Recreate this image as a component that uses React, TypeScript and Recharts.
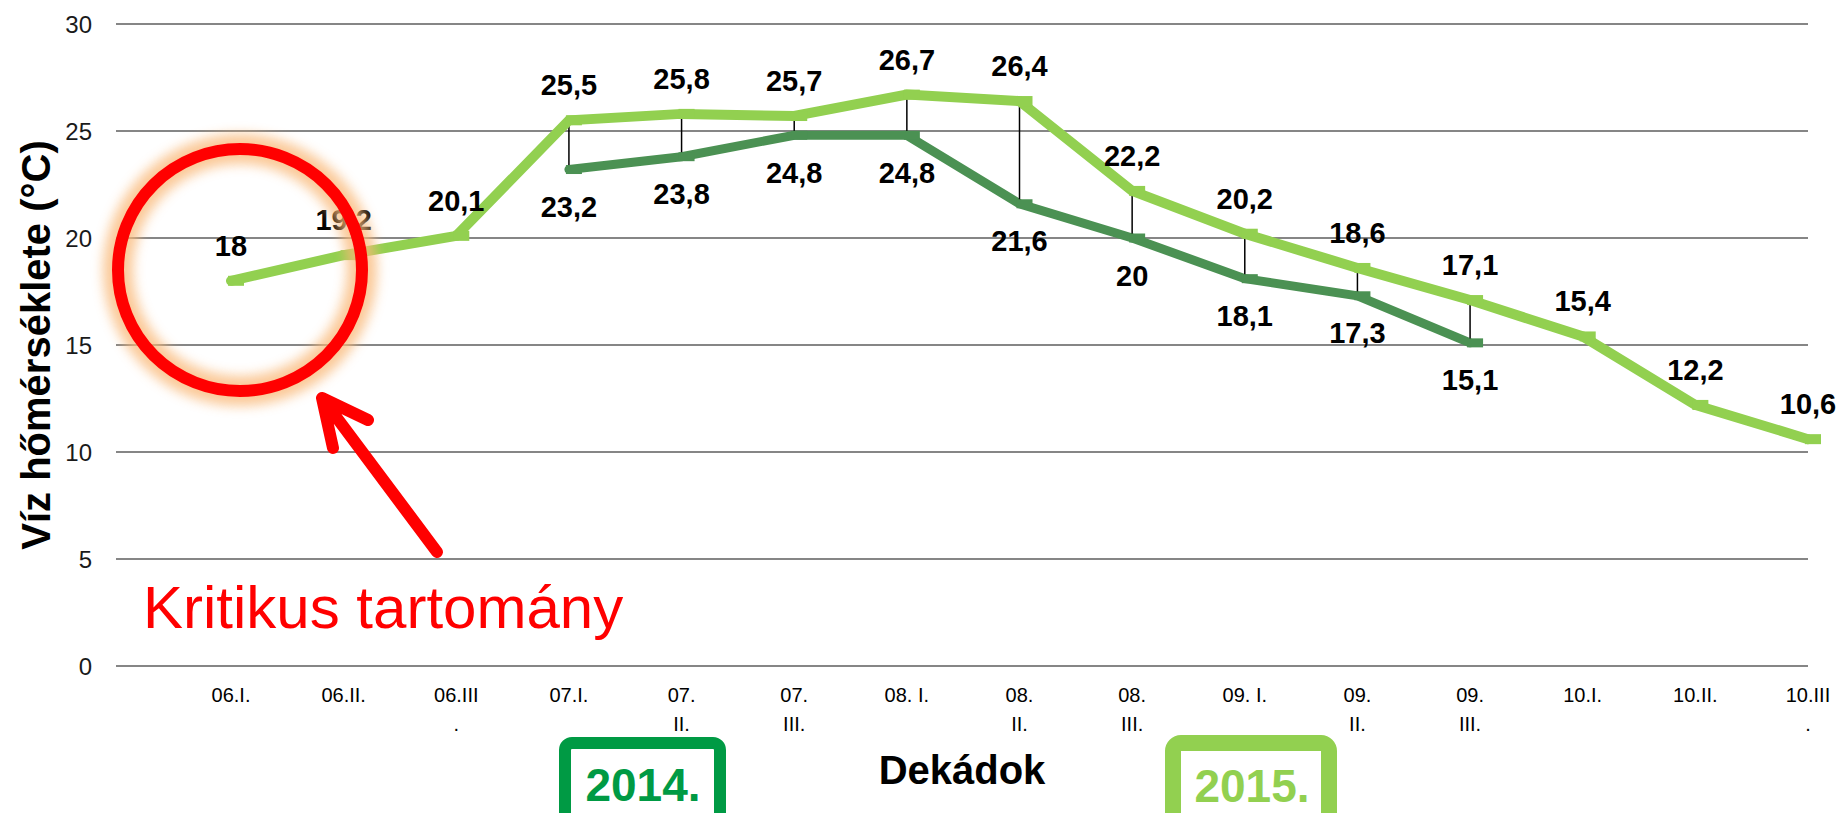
import React from "react";
import { LineChart, Line, XAxis, YAxis, CartesianGrid, LabelList, ErrorBar } from "recharts";

const categories = [
  "06.I.", "06.II.", "06.III\n.", "07.I.", "07.\nII.", "07.\nIII.", "08. I.", "08.\nII.",
  "08.\nIII.", "09. I.", "09.\nII.", "09.\nIII.", "10.I.", "10.II.", "10.III\n.",
];
const temps2015 = [18, 19.2, 20.1, 25.5, 25.8, 25.7, 26.7, 26.4, 22.2, 20.2, 18.6, 17.1, 15.4, 12.2, 10.6];
const temps2014 = [null, null, null, 23.2, 23.8, 24.8, 24.8, 21.6, 20, 18.1, 17.3, 15.1, null, null, null];
const yTicks = [0, 5, 10, 15, 20, 25, 30];

const seriesNames = ["2014.", "2015."];
const seriesColors = ["#4B9153", "#92D050"];
const boxColors = ["#009A44", "#92D050"];

const data = categories.map((cat, i) => ({ cat, y2014: temps2014[i], y2015: temps2015[i] }));

const FONT = "'Liberation Sans', Arial, sans-serif";
const fmt = (v: any) => (v == null ? "" : String(v).replace(".", ","));

const dashDot = (color: string, sw: number) => (props: any) => {
  const { cx, cy, index } = props;
  if (cx == null || cy == null) return <g key={`d-${index}`} />;
  return <rect key={`d-${index}`} x={cx - 3} y={cy - sw / 2} width={16} height={sw} fill={color} />;
};

const XTick = (props: any) => {
  const { x, y, payload } = props;
  const lines = String(payload.value).split("\n");
  return (
    <text x={x} y={y} textAnchor="middle" fontSize={20} fontFamily={FONT} fill="#000">
      {lines.map((l, i) => (
        <tspan key={i} x={x} dy={i === 0 ? 28 : 29}>
          {l}
        </tspan>
      ))}
    </text>
  );
};

const App: React.FC = () => {
  return (
    <div style={{ position: "absolute", left: 0, top: 0, width: 1841, height: 813, background: "#fff" }}>
      <LineChart
        width={1841}
        height={813}
        data={data}
        margin={{ top: 24, right: 33, bottom: 87, left: 36 }}
      >
        <CartesianGrid vertical={false} stroke="#868686" strokeWidth={2} />
        <XAxis
          dataKey="cat"
          interval={0}
          tickLine={false}
          axisLine={false}
          tickSize={0}
          tickMargin={8}
          height={60}
          padding={{ left: 115, right: 0 }}
          tick={<XTick />}
        />
        <YAxis
          domain={[0, 30]}
          ticks={yTicks}
          width={80}
          tickLine={false}
          axisLine={false}
          tickSize={0}
          tickMargin={24}
          tick={{ fontSize: 24, fill: "#1a1a1a", fontFamily: FONT }}
        />
        <Line
          dataKey="y2014"
          name={seriesNames[0]}
          stroke={seriesColors[0]}
          strokeWidth={9}
          strokeLinecap="round"
          dot={dashDot(seriesColors[0], 9)}
          activeDot={false}
          isAnimationActive={false}
        >
          <LabelList
            dataKey="y2014"
            position="bottom"
            offset={27}
            formatter={fmt}
            fontSize={29}
            fontWeight="bold"
            fontFamily={FONT}
            fill="#000"
          />
        </Line>
        <Line
          dataKey="y2015"
          name={seriesNames[1]}
          stroke={seriesColors[1]}
          strokeWidth={10}
          strokeLinecap="round"
          dot={dashDot(seriesColors[1], 10)}
          activeDot={false}
          isAnimationActive={false}
        >
          <ErrorBar
            dataKey={(d: any) => (d.y2014 == null ? undefined : [d.y2015 - d.y2014, 0])}
            direction="y"
            width={0}
            stroke="#000"
            strokeWidth={1.5}
            isAnimationActive={false}
          />
          <LabelList
            dataKey="y2015"
            position="top"
            offset={25}
            formatter={fmt}
            fontSize={29}
            fontWeight="bold"
            fontFamily={FONT}
            fill="#000"
          />
        </Line>
      </LineChart>

      {/* annotations, axis titles and the year boxes */}
      <svg
        width={1841}
        height={813}
        style={{ position: "absolute", left: 0, top: 0, pointerEvents: "none" }}
        fontFamily={FONT}
      >
        <defs>
          <filter id="glow" x="-30%" y="-30%" width="160%" height="160%">
            <feGaussianBlur stdDeviation="6" />
          </filter>
        </defs>
        <ellipse cx={240} cy={270} rx={122} ry={121} fill="none" stroke="#F9B877" strokeWidth={30} opacity={0.75} filter="url(#glow)" />
        <ellipse cx={240} cy={270} rx={122} ry={121} fill="none" stroke="#FF0000" strokeWidth={12} />
        <path
          d="M437 552 L322 398 M333 448 L322 398 L368 420"
          fill="none"
          stroke="#FF0000"
          strokeWidth={12}
          strokeLinecap="round"
          strokeLinejoin="round"
        />
        <text x={143} y={628} fontSize={60} fill="#FF0000">
          Kritikus tartomány
        </text>

        <text
          transform="translate(36,345) rotate(-90)"
          textAnchor="middle"
          dominantBaseline="central"
          fontSize={40}
          fontWeight="bold"
          fill="#000"
        >
          Víz hőmérséklete (°C)
        </text>
        <text x={962} y={784} textAnchor="middle" fontSize={40} fontWeight="bold" fill="#000">
          Dekádok
        </text>

        <rect x={565} y={743} width={155} height={110} rx={7} fill="#fff" stroke={boxColors[0]} strokeWidth={12} />
        <text x={643} y={801} textAnchor="middle" fontSize={46} fontWeight="bold" fill={boxColors[0]}>
          {seriesNames[0]}
        </text>
        <rect x={1173} y={743} width={156} height={110} rx={8} fill="#fff" stroke={boxColors[1]} strokeWidth={16} />
        <text x={1252} y={802} textAnchor="middle" fontSize={46} fontWeight="bold" fill={boxColors[1]}>
          {seriesNames[1]}
        </text>
      </svg>
    </div>
  );
};

export default App;
